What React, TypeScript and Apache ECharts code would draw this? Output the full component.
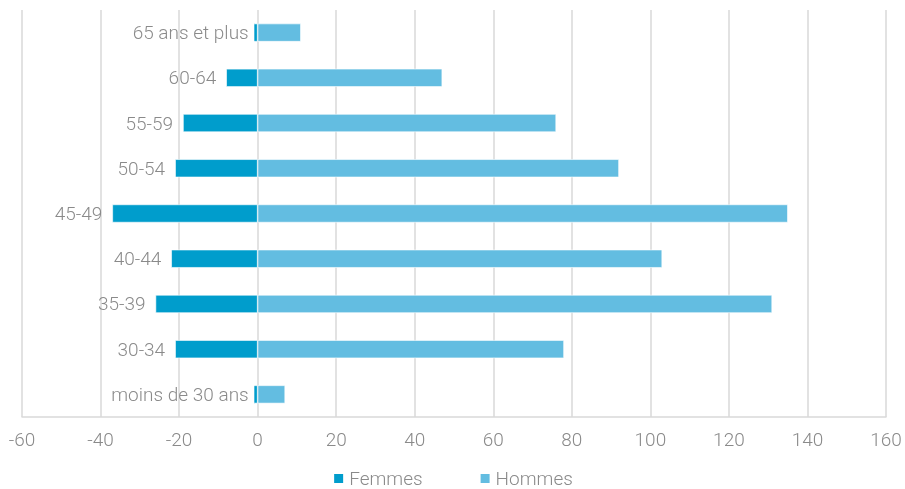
import React, { useEffect, useRef } from "react";
import * as echarts from "echarts";

const categories = [
  "moins de 30 ans",
  "30-34",
  "35-39",
  "40-44",
  "45-49",
  "50-54",
  "55-59",
  "60-64",
  "65 ans et plus",
];
const femmes = [-1, -21, -26, -22, -37, -21, -19, -8, -1];
const hommes = [7, 78, 131, 103, 135, 92, 76, 47, 11];
const xTicks = { min: -60, max: 160, interval: 20 };

const FONT = "'Roboto Light', Roboto, sans-serif";
const TEXT = "#8A8A8A";
const FS = 19;

export default function App() {
  const ref = useRef<HTMLDivElement>(null);
  useEffect(() => {
    if (!ref.current) return;
    const chart = echarts.init(ref.current, undefined, { renderer: "svg" });
    chart.setOption({
      animation: false,
      grid: { left: 22, right: 19, top: 10, bottom: 72, containLabel: false },
      legend: {
        top: 469,
        left: "center",
        padding: 0,
        icon: "rect",
        itemWidth: 11,
        itemHeight: 11,
        itemGap: 56,
        textStyle: {
          color: TEXT,
          fontFamily: FONT,
          fontWeight: 300,
          fontSize: FS,
          lineHeight: 18,
        },
        data: ["Femmes", "Hommes"],
      },
      xAxis: {
        type: "value",
        min: xTicks.min,
        max: xTicks.max,
        interval: xTicks.interval,
        axisLine: { show: true, lineStyle: { color: "#D9D9D9", width: 1.5 } },
        axisTick: { show: false },
        splitLine: { show: true, lineStyle: { color: "#D9D9D9", width: 1.5 } },
        axisLabel: {
          color: TEXT,
          fontFamily: FONT,
          fontWeight: 300,
          fontSize: FS,
          margin: 13,
        },
      },
      yAxis: {
        type: "category",
        data: categories,
        axisLine: { show: false },
        axisTick: { show: false },
        axisLabel: { show: false },
        splitLine: { show: false },
      },
      series: [
        {
          name: "Femmes",
          type: "bar",
          stack: "total",
          barWidth: "40%",
          data: femmes.map((v) => ({
            value: v,
            label: { distance: Math.abs(v) < 3 ? 5 : 10 },
          })),
          itemStyle: { color: "#009DCC", borderColor: "#ffffff", borderWidth: 0.6 },
          label: {
            show: true,
            position: "left",
            formatter: (p: any) => p.name,
            color: TEXT,
            fontFamily: FONT,
            fontWeight: 300,
            fontSize: FS,
          },
        },
        {
          name: "Hommes",
          type: "bar",
          stack: "total",
          barWidth: "40%",
          data: hommes,
          itemStyle: { color: "#63BDE1", borderColor: "#ffffff", borderWidth: 0.6 },
        },
      ],
    });
    return () => chart.dispose();
  }, []);
  return (
    <div
      ref={ref}
      style={{ position: "fixed", left: 0, top: 0, width: 905, height: 489 }}
    />
  );
}
